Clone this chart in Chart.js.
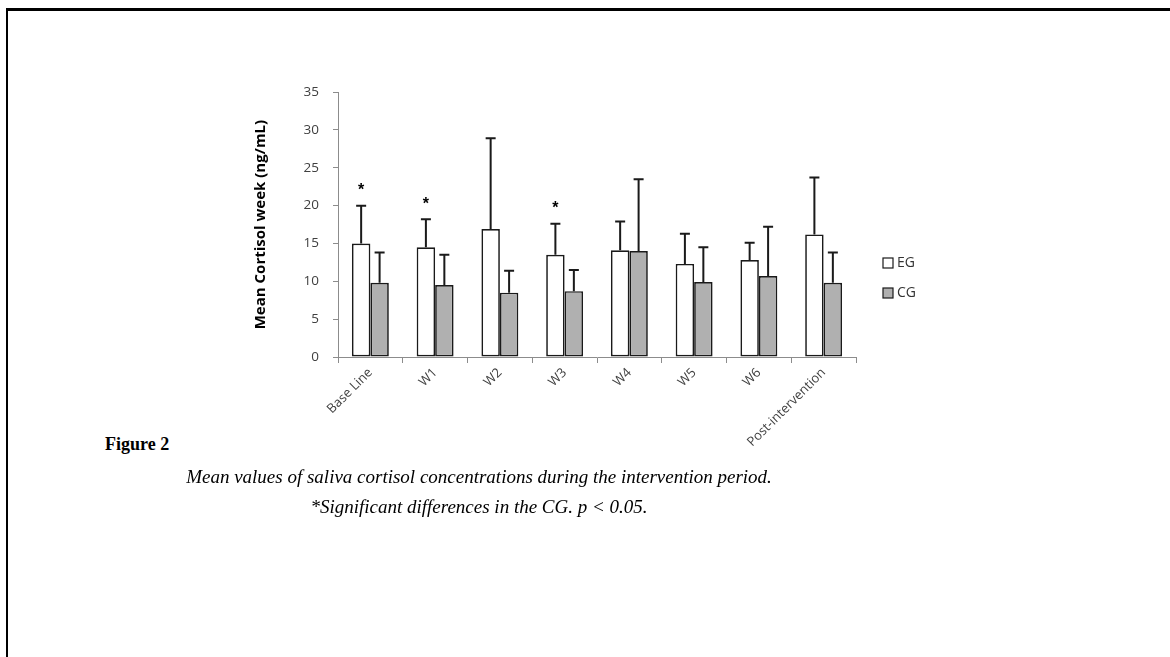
<!DOCTYPE html>
<html>
<head>
<meta charset="utf-8">
<script src="https://cdn.jsdelivr.net/npm/chart.js@4.4.0/dist/chart.umd.min.js"></script>
<style>
    body { margin: 0; background: #fff; width: 1170px; height: 657px; overflow: hidden; position: relative; }
    #cadre { position: absolute; left: 6px; top: 8px; width: 1200px; height: 700px; border-top: 3px solid #000; border-left: 2px solid #000; }
    #zone { position: absolute; left: 230px; top: 70px; width: 720px; height: 410px; }
    .legende { position: absolute; font-family: "Liberation Serif", serif; color: #000; }
    #figure { left: 105px; top: 434px; font-weight: bold; font-size: 18px; }
    .ligne { left: 0; width: 958px; text-align: center; font-style: italic; font-size: 19px; }
    #ligne1 { top: 466px; }
    #ligne2 { top: 496px; }
</style>
</head>
<body>
<div id="cadre"></div>
<div id="zone"><canvas id="cortisolChart"></canvas></div>
<div id="figure" class="legende">Figure 2</div>
<div id="ligne1" class="legende ligne">Mean values of saliva cortisol concentrations during the intervention period.</div>
<div id="ligne2" class="legende ligne">*Significant differences in the CG. <i>p</i> &lt; 0.05.</div>

<script>
// Données
const semaines = ['Base Line', 'W1', 'W2', 'W3', 'W4', 'W5', 'W6', 'Post-intervention'];
const moyenneEG = [15.0, 14.5, 16.9, 13.5, 14.1, 12.3, 12.8, 16.2];
const ecartEG = [5.0, 3.7, 12.0, 4.1, 3.8, 4.0, 2.3, 7.5];
const moyenneCG = [9.8, 9.5, 8.5, 8.7, 14.0, 9.9, 10.7, 9.8];
const ecartCG = [4.0, 4.0, 2.9, 2.8, 9.5, 4.6, 6.5, 4.0];
const significatif = [true, true, false, true, false, false, false, false];
const graduations = [0, 5, 10, 15, 20, 25, 30, 35];

const ecarts = [ecartEG, ecartCG];
const police = 'Open Sans';

// Barres d'erreur (vers le haut seulement) et astérisques
const barresErreur = {
    id: 'barresErreur',
    afterDatasetsDraw(chart) {
        const ctx = chart.ctx;
        const y = chart.scales.y;
        ctx.save();
        ctx.strokeStyle = '#1a1a1a';
        ctx.lineWidth = 2;
        chart.data.datasets.forEach((ds, i) => {
            const meta = chart.getDatasetMeta(i);
            meta.data.forEach((bar, j) => {
                const haut = y.getPixelForValue(ds.data[j] + ecarts[i][j]);
                ctx.beginPath();
                ctx.moveTo(bar.x, bar.y);
                ctx.lineTo(bar.x, haut);
                ctx.moveTo(bar.x - 5, haut);
                ctx.lineTo(bar.x + 5, haut);
                ctx.stroke();
                if (i === 0 && significatif[j]) {
                    ctx.fillStyle = '#000';
                    ctx.font = 'bold 16px "Liberation Sans"';
                    ctx.textAlign = 'center';
                    ctx.textBaseline = 'middle';
                    ctx.fillText('*', bar.x, haut - 15);
                }
            });
        });
        ctx.restore();
    }
};

// Légende à droite de la zone de tracé
const legendeDroite = {
    id: 'legendeDroite',
    afterDraw(chart) {
        const ctx = chart.ctx;
        const area = chart.chartArea;
        ctx.save();
        ctx.font = `14px "${police}"`;
        ctx.textBaseline = 'middle';
        chart.data.datasets.forEach((ds, i) => {
            const cy = area.bottom - 94 + i * 30;
            const bx = area.right + 27;
            ctx.fillStyle = ds.backgroundColor;
            ctx.fillRect(bx, cy - 5, 10, 10);
            ctx.strokeStyle = '#1a1a1a';
            ctx.lineWidth = 1.2;
            ctx.strokeRect(bx, cy - 5, 10, 10);
            ctx.fillStyle = '#333';
            ctx.fillText(ds.label, bx + 14, cy);
        });
        ctx.restore();
    }
};

function creerGraphique() {
    new Chart(document.getElementById('cortisolChart'), {
        type: 'bar',
        data: {
            labels: semaines,
            datasets: [{
                label: 'EG',
                data: moyenneEG,
                backgroundColor: '#ffffff',
                borderColor: '#1a1a1a',
                borderWidth: 1.7,
                borderSkipped: false,
                categoryPercentage: 0.57,
                barPercentage: 1.0
            }, {
                label: 'CG',
                data: moyenneCG,
                backgroundColor: '#b0b0b0',
                borderColor: '#1a1a1a',
                borderWidth: 1.7,
                borderSkipped: false,
                categoryPercentage: 0.57,
                barPercentage: 1.0
            }]
        },
        options: {
            responsive: true,
            maintainAspectRatio: false,
            animation: false,
            layout: { padding: { top: 20, right: 94, left: 0, bottom: 0 } },
            plugins: {
                legend: { display: false },
                tooltip: { enabled: false }
            },
            scales: {
                x: {
                    afterFit: s => { s.height = 123; },
                    grid: { drawOnChartArea: false, tickLength: 6, color: '#8c8c8c' },
                    border: { color: '#8c8c8c' },
                    ticks: {
                        minRotation: 45,
                        maxRotation: 45,
                        padding: 2,
                        color: '#404040',
                        font: { family: police, size: 13 }
                    }
                },
                y: {
                    min: 0,
                    max: 35,
                    afterFit: s => { s.width = 108; },
                    afterBuildTicks: s => { s.ticks = graduations.map(v => ({ value: v })); },
                    grid: { drawOnChartArea: false, tickLength: 5, color: '#8c8c8c' },
                    border: { color: '#8c8c8c' },
                    ticks: {
                        padding: 14,
                        color: '#404040',
                        font: { family: police, size: 13.5 }
                    },
                    title: {
                        display: true,
                        text: 'Mean Cortisol week (ng/mL)',
                        color: '#000',
                        padding: { top: 22, bottom: 0 },
                        font: { family: police, size: 15, weight: 'bold' }
                    }
                }
            }
        },
        plugins: [barresErreur, legendeDroite]
    });
}

document.addEventListener('DOMContentLoaded', creerGraphique);
</script>
</body>
</html>
